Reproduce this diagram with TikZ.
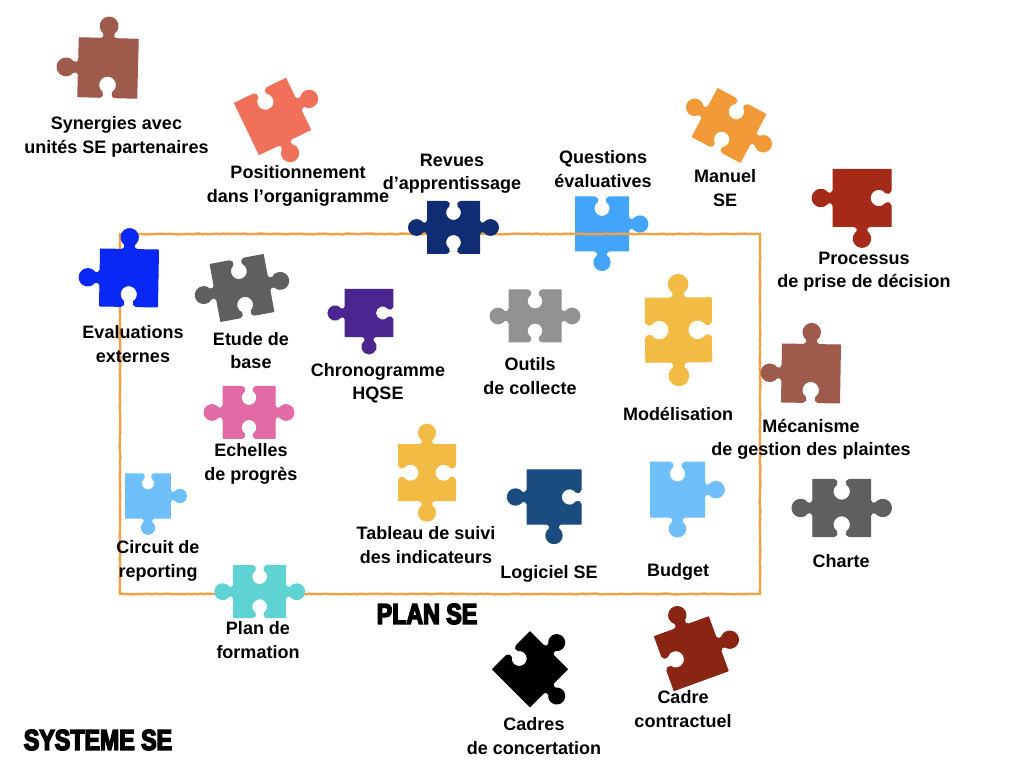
\documentclass[tikz,border=0pt]{standalone}
\usepackage{fontspec}
\setmainfont{Liberation Sans}
\newfontfamily\heavyfont[FakeBold=5,FakeStretch=0.8]{Liberation Sans Bold}
\usetikzlibrary{decorations.pathmorphing}
\definecolor{cBrown}{HTML}{9E5B4C}
\definecolor{cCoral}{HTML}{F1705A}
\definecolor{cNavy}{HTML}{102C73}
\definecolor{cSky}{HTML}{42A5FA}
\definecolor{cOrange}{HTML}{F39A38}
\definecolor{cRust}{HTML}{A52B18}
\definecolor{cBlue}{HTML}{0A28F5}
\definecolor{cGrey}{HTML}{5F5F5F}
\definecolor{cPurple}{HTML}{4B2590}
\definecolor{cPink}{HTML}{E26BA5}
\definecolor{cLight}{HTML}{929292}
\definecolor{cYellow}{HTML}{F2BB44}
\definecolor{cSteel}{HTML}{1B4C80}
\definecolor{cPale}{HTML}{6FBFFB}
\definecolor{cTeal}{HTML}{5FD3D3}
\definecolor{cMaroon}{HTML}{8A2413}
\definecolor{cFrame}{HTML}{F5A042}
% one side of a piece: corner reached, style holding the side's frame
\newcommand{\pedge}[3]{%
 -- (#1,#2)
   -- ([#3]-7.5,0) .. controls ([#3]-5,0) and ([#3]-3.6,3.4) .. ([#3]-5,5.12)
   .. controls ([#3]-7.98,7.28) and ([#3]-9.22,11.13) .. ([#3]-8.08,14.63)
   .. controls ([#3]-6.94,18.13) and ([#3]-3.68,20.5) .. ([#3]0,20.5)
   .. controls ([#3]3.68,20.5) and ([#3]6.94,18.13) .. ([#3]8.08,14.63)
   .. controls ([#3]9.22,11.13) and ([#3]7.98,7.28) .. ([#3]5,5.12)
   .. controls ([#3]3.6,3.4) and ([#3]5,0) .. ([#3]7.5,0)}
\newcommand{\puzzlebody}[4]{%
 \tikzset{
  sideA/.style={shift={(0,\ha)},xscale=\kk,yscale={(#1)*\kk}},
  sideB/.style={shift={(\wa,0)},rotate=-90,xscale=\kk,yscale={(#2)*\kk}},
  sideC/.style={shift={(0,-\ha)},rotate=180,xscale=\kk,yscale={(#3)*\kk}},
  sideD/.style={shift={(-\wa,0)},rotate=90,xscale=\kk,yscale={(#4)*\kk}}}
 \path[fill=pcol,draw=pcol,line width=1pt,line join=round]
   (-\wa,\ha)
   \pedge{-\wa}{\ha}{sideA}
   \pedge{\wa}{\ha}{sideB}
   \pedge{\wa}{-\ha}{sideC}
   \pedge{-\wa}{-\ha}{sideD}
   -- cycle;}
% centre x, centre y (image px), width, height, rotation, colour, four kinds (top right bottom left)
\newcommand{\puzzle}[7]{%
 \begin{scope}[shift={(#1,766-#2)},rotate=#5]
  \pgfmathsetmacro{\wa}{#3/2-0.5}
  \pgfmathsetmacro{\ha}{#4/2-0.5}
  \pgfmathsetmacro{\kk}{(#3+#4)/115}
  \colorlet{pcol}{#6}
  \puzzlebody#7
 \end{scope}}
\tikzset{lab/.style={align=center,inner sep=0pt,font=\fontsize{18}{23.3}\selectfont\bfseries},
 big/.style={inner sep=0pt,font=\fontsize{29}{30}\selectfont\heavyfont}}
\begin{document}
\begin{tikzpicture}[x=1pt,y=1pt]
\useasboundingbox (0,0) rectangle (1024,766);
\puzzle{602}{224}{54}{55}{0}{cSky}{{-1}{1}{1}{0}}
\draw[cFrame,line width=2.4pt,decorate,decoration={random steps,segment length=3pt,amplitude=0.4pt}]
  (120,766-234) rectangle (760,766-594);
\puzzle{108}{68}{60}{60}{-1.5}{cBrown}{{1}{0}{-1}{1}}
\puzzle{272.5}{116.5}{58}{58}{25.7}{cCoral}{{-1}{1}{1}{0}}
\puzzle{453.5}{227.5}{53}{53}{0}{cNavy}{{-1}{1}{-1}{1}}
\puzzle{729}{125.5}{55.5}{55.5}{-28}{cOrange}{{-1}{1}{-1}{1}}
\puzzle{862}{198}{59}{58}{0}{cRust}{{0}{-1}{1}{1}}
\puzzle{129}{278}{59}{58}{-1}{cBlue}{{1}{0}{-1}{1}}
\puzzle{242}{288}{55}{59}{10.5}{cGrey}{{-1}{1}{-1}{1}}
\puzzle{369}{313}{48.6}{48.4}{0}{cPurple}{{0}{-1}{1}{1}}
\puzzle{249}{412.5}{53}{53}{0}{cPink}{{-1}{1}{-1}{1}}
\puzzle{535}{316}{53}{53}{0}{cLight}{{-1}{1}{-1}{1}}
\puzzle{678.5}{330}{67}{65}{0.5}{cYellow}{{1}{-1}{1}{-1}}
\puzzle{811}{373.5}{59}{59}{-1}{cBrown}{{1}{0}{-1}{1}}
\puzzle{554}{497}{55}{55}{0}{cSteel}{{0}{-1}{1}{1}}
\puzzle{677.5}{489.7}{55}{56}{0}{cPale}{{-1}{1}{1}{0}}
\puzzle{841.7}{508}{58.7}{58.3}{0}{cGrey}{{-1}{1}{-1}{1}}
\puzzle{148}{496}{45.7}{45.4}{0}{cPale}{{-1}{1}{1}{0}}
\puzzle{259.7}{591.7}{53}{53}{0}{cTeal}{{-1}{1}{-1}{1}}
\puzzle{427}{472.7}{58}{57}{0}{cYellow}{{1}{-1}{1}{-1}}
\puzzle{530}{669.3}{54}{54}{45}{black}{{-1}{1}{1}{0}}
\puzzle{691.3}{653.7}{58.5}{58.5}{20}{cMaroon}{{1}{1}{0}{-1}}
\node[lab] (l1) at (116.5,766-137) {Synergies avec\\unités SE partenaires};
\node[lab] (l2) at (298,766-186) {Positionnement\\dans l’organigramme};
\node[lab] (l3) at (452,766-173.5) {Revues\\d’apprentissage};
\node[lab] (l4) at (603,766-169) {Questions\\évaluatives};
\node[lab] (l5) at (725,766-188) {Manuel\\SE};
\node[lab] (l6) at (864,766-271.5) {Processus\\de prise de décision};
\node[lab] (l7) at (133,766-344) {Evaluations\\externes};
\node[lab] (l8) at (251,766-350.5) {Etude de\\base};
\node[lab] (l9) at (378,766-383) {Chronogramme\\HQSE};
\node[lab] (l10) at (530,766-376) {Outils\\de collecte};
\node[lab] (l11) at (678,766-414) {Modélisation};
\node[lab] (l12) at (811,766-439) {Mécanisme\\de gestion des plaintes};
\node[lab] (l13) at (251,766-464) {Echelles\\de progrès};
\node[lab] (l14) at (426,766-545) {Tableau de suivi\\des indicateurs};
\node[lab] (l15) at (549,766-574) {Logiciel SE};
\node[lab] (l16) at (678,766-572) {Budget};
\node[lab] (l17) at (841,766-561) {Charte};
\node[lab] (l18) at (158,766-561) {Circuit de\\reporting};
\node[lab] (l19) at (258,766-640) {Plan de\\formation};
\node[lab] (l20) at (683,766-709) {Cadre\\contractuel};
\node[lab] (l21) at (534,766-736) {Cadres\\de concertation};
\node[big] (t1) at (427,766-614) {PLAN SE};
\node[big] (t2) at (98,766-740) {SYSTEME SE};
\end{tikzpicture}
\end{document}
